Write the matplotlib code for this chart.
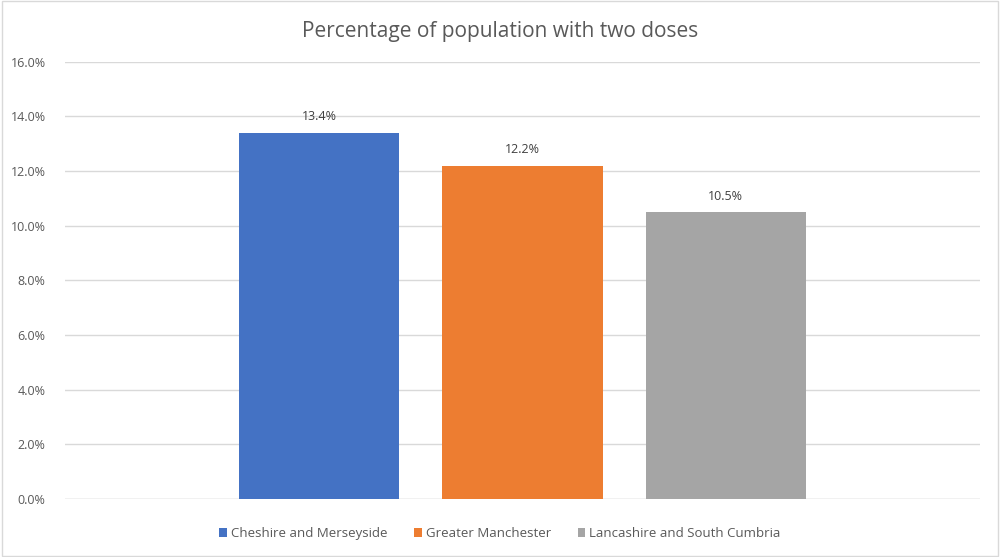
import matplotlib
matplotlib.use("Agg")
import matplotlib.pyplot as plt
from matplotlib.patches import Rectangle

plt.rcParams['font.family'] = ['Open Sans', 'DejaVu Sans']

title = "Percentage of population with two doses"
series_names = ["Cheshire and Merseyside", "Greater Manchester", "Lancashire and South Cumbria"]
values = [13.4, 12.2, 10.5]
colors = ["#4472C4", "#ED7D31", "#A5A5A5"]
yticks = [0, 2, 4, 6, 8, 10, 12, 14, 16]
ytick_labels = ["0.0%", "2.0%", "4.0%", "6.0%", "8.0%", "10.0%", "12.0%", "14.0%", "16.0%"]

fig = plt.figure(figsize=(10, 5.57), dpi=100)
fig.patch.set_facecolor("white")
fig.patches.append(Rectangle((0.002, 0.002), 0.996, 0.996, transform=fig.transFigure,
                             fill=False, edgecolor="#D9D9D9", linewidth=1))

ax = fig.add_axes([0.065, 0.104, 0.915, 0.785])
offsets = [-0.222, 0.0, 0.222]
bar_w = 0.175
for off, v, c, name in zip(offsets, values, colors, series_names):
    ax.bar(off, v, width=bar_w, color=c, label=name, zorder=3)
    ax.text(off, v + 0.35, f"{v:.1f}%", ha="center", va="bottom", fontsize=9, color="#404040")

ax.set_xlim(-0.5, 0.5)
ax.set_ylim(0, 16)
ax.set_yticks(yticks)
ax.set_yticklabels(ytick_labels, fontsize=9, color="#595959")
ax.set_xticks([])
ax.grid(axis="y", color="#D9D9D9", linewidth=1, zorder=0)
for s in ax.spines.values():
    s.set_visible(False)
ax.axhline(0, color="#D9D9D9", linewidth=1, zorder=2)
ax.tick_params(axis="y", length=0, pad=14)

fig.text(0.5, 0.944, title, ha="center", va="center", fontsize=15, color="#595959")

leg = fig.legend(loc="center", bbox_to_anchor=(0.5, 0.042), ncol=3, frameon=False,
                 fontsize=9.5, handlelength=0.6, handleheight=0.6, handletextpad=0.3,
                 columnspacing=2.0)
for t in leg.get_texts():
    t.set_color("#595959")

fig.savefig("out.png", dpi=100)
